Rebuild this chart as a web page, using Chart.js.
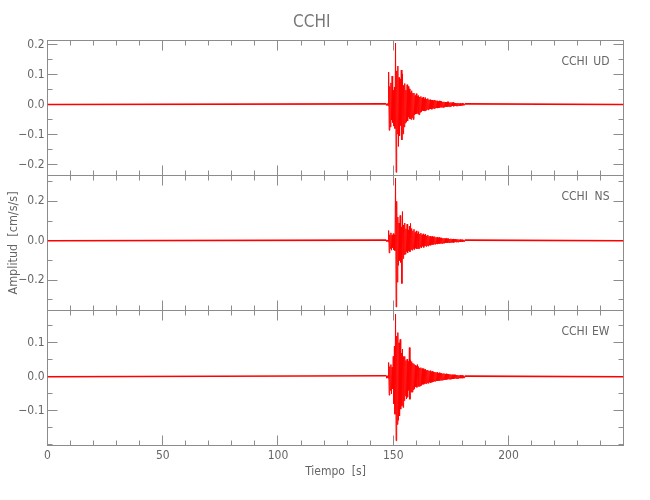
<!DOCTYPE html>
<html><head><meta charset="utf-8">
<script src="https://cdn.jsdelivr.net/npm/chart.js@4/dist/chart.umd.min.js"></script>
<style>
html,body{margin:0;padding:0;background:#fff;}
#wrap{position:relative;width:650px;height:500px;overflow:hidden;}
canvas{position:absolute;left:0;top:0;}
</style></head><body>
<div id="wrap">
<canvas id="c1" width="650" height="500"></canvas>
<canvas id="c2" width="650" height="500"></canvas>
<canvas id="c3" width="650" height="500"></canvas>
</div>
<script>
// ---------- data ----------
const STATION = 'CCHI';
const COMPONENTS = ['UD', 'NS', 'EW'];
const X_TITLE = 'Tiempo  [s]';
const Y_TITLE = 'Amplitud  [cm/s/s]';
const X_TICKS = [0, 50, 100, 150, 200];
const X_RANGE = [0, 249.9];
const UD_TICKS = [-0.2, -0.1, 0, 0.1, 0.2];
const NS_TICKS = [-0.2, 0, 0.2];
const EW_TICKS = [-0.1, 0, 0.1];
const UD_RANGE = [-0.2367, 0.2133];
const NS_RANGE = [-0.354, 0.331];
const EW_RANGE = [-0.202, 0.195];
const UD_MINOR = 0.05, NS_MINOR = 0.1, EW_MINOR = 0.05, X_MINOR = 10;

// event window samples: first sample time and sample interval (s); 4 samples per second per row
const T0 = 147.0, DT = 0.25;
const UD_VALUES = [
 0.002,-0.003,0.003,-0.004, 0.108,-0.086,0.060,-0.075, 0.072,-0.052,0.095,-0.060,
 0.048,-0.072,0.058,-0.080, 0.205,-0.226,0.112,-0.098, 0.128,-0.140,0.090,-0.104,
 0.085,-0.070,0.115,-0.118, 0.102,-0.098,0.064,-0.075, 0.070,-0.062,0.048,-0.058,
 0.066,-0.055,0.060,-0.042, 0.052,-0.048,0.040,-0.050, 0.046,-0.044,0.038,-0.050,
 0.038,-0.035,0.030,-0.032, 0.036,-0.030,0.028,-0.032, 0.030,-0.034,0.025,-0.026,
 0.027,-0.024,0.022,-0.020, 0.025,-0.021,0.019,-0.022, 0.023,-0.019,0.018,-0.016,
 0.020,-0.018,0.016,-0.015, 0.016,-0.015,0.014,-0.016, 0.015,-0.013,0.012,-0.014,
 0.015,-0.012,0.013,-0.011, 0.012,-0.012,0.010,-0.011, 0.012,-0.010,0.011,-0.009,
 0.011,-0.009,0.008,-0.010, 0.009,-0.009,0.008,-0.007, 0.008,-0.008,0.009,-0.007,
 0.009,-0.007,0.006,-0.007, 0.007,-0.006,0.006,-0.005, 0.007,-0.006,0.005,-0.005,
 0.005,-0.005,0.004,-0.005, 0.005,-0.004,0.004,-0.004, 0.004,-0.004,0.003,-0.003,
 0.004,-0.003,0.003,-0.002, 0.002];
const NS_VALUES = [
 0.003,-0.004,0.004,-0.005, 0.052,-0.062,0.030,-0.040, 0.040,-0.048,0.028,-0.035,
 0.036,-0.046,0.030,-0.050, 0.318,-0.336,0.200,-0.210, 0.120,-0.125,0.090,-0.100,
 0.128,-0.110,0.070,-0.217, 0.148,-0.090,0.080,-0.070, 0.090,-0.068,0.060,-0.055,
 0.084,-0.062,0.055,-0.050, 0.074,-0.056,0.088,-0.045, 0.062,-0.048,0.050,-0.040,
 0.058,-0.045,0.042,-0.038, 0.050,-0.042,0.036,-0.040, 0.046,-0.039,0.034,-0.032,
 0.039,-0.037,0.030,-0.028, 0.035,-0.034,0.028,-0.026, 0.033,-0.029,0.025,-0.024,
 0.029,-0.027,0.022,-0.021, 0.024,-0.023,0.020,-0.019, 0.022,-0.020,0.018,-0.017,
 0.021,-0.018,0.016,-0.015, 0.019,-0.017,0.015,-0.014, 0.017,-0.015,0.013,-0.013,
 0.015,-0.014,0.012,-0.012, 0.013,-0.013,0.011,-0.010, 0.012,-0.011,0.010,-0.010,
 0.011,-0.010,0.009,-0.009, 0.010,-0.009,0.008,-0.008, 0.009,-0.009,0.007,-0.007,
 0.008,-0.007,0.007,-0.006, 0.007,-0.007,0.006,-0.005, 0.006,-0.006,0.005,-0.005,
 0.005,-0.005,0.004,-0.004, 0.003];
const EW_VALUES = [
 0.003,-0.004,0.003,-0.004, 0.042,-0.054,0.030,-0.040, 0.036,-0.050,0.028,-0.035,
 0.060,-0.080,0.090,-0.110, 0.184,-0.188,0.120,-0.140, 0.130,-0.128,0.100,-0.115,
 0.110,-0.095,0.070,-0.085, 0.081,-0.090,0.060,-0.070, 0.060,-0.056,0.048,-0.065,
 0.052,-0.060,0.045,-0.040, 0.086,-0.066,0.050,-0.045, 0.045,-0.045,0.040,-0.038,
 0.038,-0.035,0.034,-0.030, 0.032,-0.031,0.036,-0.028, 0.030,-0.028,0.026,-0.027,
 0.027,-0.025,0.024,-0.022, 0.024,-0.022,0.021,-0.020, 0.022,-0.020,0.019,-0.018,
 0.020,-0.019,0.017,-0.016, 0.018,-0.017,0.015,-0.016, 0.016,-0.015,0.014,-0.013,
 0.014,-0.013,0.013,-0.012, 0.013,-0.012,0.011,-0.011, 0.012,-0.011,0.010,-0.010,
 0.011,-0.010,0.009,-0.009, 0.010,-0.009,0.008,-0.008, 0.009,-0.008,0.008,-0.007,
 0.008,-0.007,0.007,-0.007, 0.007,-0.007,0.006,-0.006, 0.006,-0.006,0.006,-0.005,
 0.006,-0.005,0.005,-0.005, 0.005,-0.005,0.004,-0.004, 0.005,-0.004,0.004,-0.004,
 0.004,-0.004,0.003,-0.003, 0.002];

// ---------- style ----------
const FONT = '"Liberation Sans Narrow","DejaVu Sans Condensed","Arial Narrow","Liberation Sans",sans-serif';
const TEXT = '#666666';
const AXIS = '#8c8c8c';
const LINE = '#ff0000';
const LEFT = 47.5, RIGHT = 623.5;
const PANELS = [[40.5, 175.5], [175.5, 310.5], [310.5, 445.5]];

function series(values) {
  const pts = [{x: X_RANGE[0], y: 0}];
  values.forEach((v, i) => pts.push({x: T0 + i * DT, y: v}));
  pts.push({x: X_RANGE[1], y: 0});
  return pts;
}
function fmt(v) {
  if (Math.abs(v) < 1e-9) return '0.0';
  return (v < 0 ? '\u2212' : '') + Math.abs(v).toFixed(1);
}

const boxTicks = {
  id: 'boxTicks',
  beforeDatasetsDraw(chart, args, o) {
    const {ctx, chartArea: a, scales: {x, y}} = chart;
    ctx.save();
    ctx.strokeStyle = AXIS; ctx.lineWidth = 1;
    ctx.strokeRect(a.left, a.top, a.right - a.left, a.bottom - a.top);
    ctx.beginPath();
    const MAJ = 10, MIN = 5;
    const xs = (v, len) => {
      const px = Math.floor(x.getPixelForValue(v)) + 0.5;
      ctx.moveTo(px, a.top); ctx.lineTo(px, a.top + len);
      ctx.moveTo(px, a.bottom); ctx.lineTo(px, a.bottom - len);
    };
    const ys = (v, len) => {
      const py = Math.floor(y.getPixelForValue(v)) + 0.5;
      ctx.moveTo(a.left, py); ctx.lineTo(a.left + len, py);
      ctx.moveTo(a.right, py); ctx.lineTo(a.right - len, py);
    };
    for (let k = Math.ceil(x.min / X_MINOR); k * X_MINOR <= x.max; k++) {
      const v = k * X_MINOR;
      xs(v, X_TICKS.some(t => Math.abs(t - v) < 1e-6) ? MAJ : MIN);
    }
    for (let k = Math.ceil(y.min / o.minor - 1e-6); k * o.minor <= y.max + 1e-9; k++) {
      const v = k * o.minor;
      ys(v, o.ticks.some(t => Math.abs(t - v) < 1e-6) ? MAJ : MIN);
    }
    ctx.stroke();
    ctx.fillStyle = TEXT;
    ctx.font = '12px ' + FONT;
    ctx.textBaseline = 'middle';
    ctx.textAlign = 'left';
    ctx.fillText(STATION, a.right - 62, a.top + 21);
    ctx.textAlign = 'right';
    ctx.fillText(o.comp, a.right - 14, a.top + 21);
    ctx.restore();
  }
};

function makePanel(id, idx, values, ticks, range, minor) {
  const [top, bottom] = PANELS[idx];
  const first = idx === 0, last = idx === 2, mid = idx === 1;
  const pts = series(values);
  const n = pts.length;
  const cfg = {
    type: 'line',
    data: {datasets: [{data: pts, borderColor: LINE, borderWidth: 1,
      pointRadius: 0, tension: 0, fill: false,
      segment: {borderWidth: c => (c.p0DataIndex === 0 || c.p1DataIndex === n - 1) ? 1.6 : 1}}]},
    options: {
      responsive: false, animation: false, devicePixelRatio: 1,
      layout: {padding: {left: 0, right: 650 - RIGHT, top: first ? 0 : top, bottom: last ? 0 : 500 - bottom}},
      plugins: {
        legend: {display: false}, tooltip: {enabled: false},
        title: first ? {display: true, text: STATION, color: '#777777',
          font: {family: FONT, size: 17, weight: 'normal'}, padding: {top: 12, bottom: 8.1}} : {display: false},
        boxTicks: {ticks: ticks, minor: minor, comp: COMPONENTS[idx]}
      },
      scales: {
        x: {
          type: 'linear', min: X_RANGE[0], max: X_RANGE[1], display: last,
          afterBuildTicks: s => { s.ticks = X_TICKS.map(v => ({value: v})); },
          afterFit: s => { s.height = last ? 500 - bottom : 0; },
          grid: {display: false, drawTicks: false}, border: {display: false},
          ticks: {color: TEXT, font: {family: FONT, size: 12}, padding: 3, autoSkip: false, maxRotation: 0,
            callback: v => String(v)},
          title: {display: last, text: X_TITLE, color: TEXT, font: {family: FONT, size: 12},
            padding: {top: 0, bottom: 21}}
        },
        y: {
          type: 'linear', min: range[0], max: range[1],
          afterBuildTicks: s => { s.ticks = ticks.map(v => ({value: v})); },
          afterFit: s => { s.width = LEFT; },
          grid: {display: false, drawTicks: false}, border: {display: false},
          ticks: {color: TEXT, font: {family: FONT, size: 12}, padding: 3, autoSkip: false, callback: fmt},
          title: {display: mid, text: Y_TITLE, color: TEXT, font: {family: FONT, size: 12.5},
            padding: {top: 6.5, bottom: 0}}
        }
      }
    },
    plugins: [boxTicks]
  };
  return new Chart(document.getElementById(id), cfg);
}

makePanel('c1', 0, UD_VALUES, UD_TICKS, UD_RANGE, UD_MINOR);
makePanel('c2', 1, NS_VALUES, NS_TICKS, NS_RANGE, NS_MINOR);
makePanel('c3', 2, EW_VALUES, EW_TICKS, EW_RANGE, EW_MINOR);
</script>
</body></html>
